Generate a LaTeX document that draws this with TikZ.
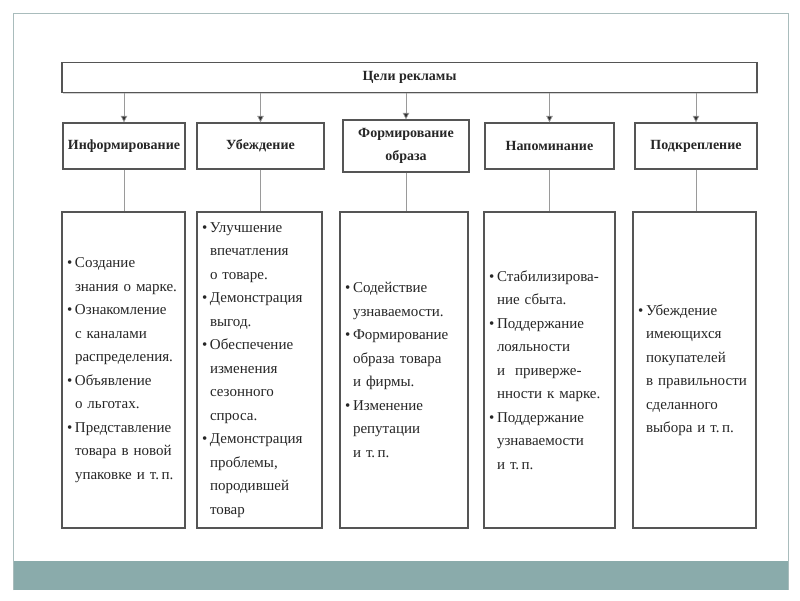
\documentclass[tikz,border=0pt]{standalone}
\usepackage{fontspec}
\setmainfont{Liberation Serif}
\usetikzlibrary{arrows.meta,shadows}
\definecolor{teal}{HTML}{8AABAB}
\definecolor{frame}{HTML}{A9BCBC}
\definecolor{boxline}{HTML}{555555}
\definecolor{conn}{HTML}{9A9A9A}
\newcommand\bul{\makebox[8pt][l]{•}}
\newcommand\cnt{\hspace*{8pt}}
\tikzset{
  hbox/.style={draw=boxline, line width=1.3pt, fill=white, align=center,
    font=\bfseries\fontsize{14}{16}\selectfont, text=black!85,
    drop shadow={shadow xshift=1pt, shadow yshift=-1.2pt, opacity=.35}},
  body/.style={draw=boxline, line width=1.3pt, fill=white, align=left,
    inner xsep=5pt, inner ysep=0pt,
    font=\fontsize{15}{23.5}\selectfont, text=black!85,
    drop shadow={shadow xshift=1pt, shadow yshift=-1.2pt, opacity=.35}},
  arr/.style={draw=conn, line width=0.7pt, -{Triangle[length=6.5pt,width=6.5pt,fill=black!80]}},
  lnk/.style={draw=conn, line width=0.7pt}
}
\begin{document}
\begin{tikzpicture}[x=1pt,y=-1pt]
\useasboundingbox (0,0) rectangle (800,600);
\fill[white] (0,0) rectangle (800,600);
% slide frame and band
\fill[teal] (13,561) rectangle (788,590);
\draw[frame, line width=0.8pt] (13,590) -- (13,13) -- (788,13) -- (788,590);

% title
\node[hbox, minimum width=695, minimum height=30] (title) at (409.5,77.5) {Цели рекламы};

% level 2
\node[hbox, minimum width=122, minimum height=46] (i1) at (124,146) {Информирование};
\node[hbox, minimum width=127, minimum height=46] (i2) at (260.5,146) {Убеждение};
\node[hbox, minimum width=126, minimum height=52, font=\bfseries\fontsize{14}{23}\selectfont] (i3) at (406,146) {Формирование\\образа};
\node[hbox, minimum width=129, minimum height=46] (i4) at (549.5,146) {Напоминание};
\node[hbox, minimum width=122, minimum height=46] (i5) at (696,146) {Подкрепление};

% level 3
\node[body, minimum width=123, minimum height=316, text width=113] (b1) at (123.5,370) {%
\bul Создание\\\cnt знания о марке.\\\bul Ознакомление\\\cnt с каналами\\\cnt распределения.\\\bul Объявление\\\cnt о льготах.\\\bul Представление\\\cnt товара в новой\\\cnt упаковке и т.\,п.};
\node[body, minimum width=125, minimum height=316, text width=115] (b2) at (259.5,370) {%
\bul Улучшение\\\cnt впечатления\\\cnt о товаре.\\\bul Демонстрация\\\cnt выгод.\\\bul Обеспечение\\\cnt изменения\\\cnt сезонного\\\cnt спроса.\\\bul Демонстрация\\\cnt проблемы,\\\cnt породившей\\\cnt товар};
\node[body, minimum width=128, minimum height=316, text width=118] (b3) at (404,370) {%
\bul Содействие\\\cnt узнаваемости.\\\bul Формирование\\\cnt образа товара\\\cnt и фирмы.\\\bul Изменение\\\cnt репутации\\\cnt и т.\,п.};
\node[body, minimum width=131, minimum height=316, text width=121] (b4) at (549.5,370) {%
\bul Стабилизирова-\\\cnt ние сбыта.\\\bul Поддержание\\\cnt лояльности\\\cnt и\ \ привер­же-\\\cnt нности к марке.\\\bul Поддержание\\\cnt узнаваемости\\\cnt и т.\,п.};
\node[body, minimum width=123, minimum height=316, text width=113] (b5) at (694.5,370) {%
\bul Убеждение\\\cnt имеющихся\\\cnt покупателей\\\cnt в правильности\\\cnt сделанного\\\cnt выбора и т.\,п.};

% connectors
\foreach \n in {1,...,5}{
  \draw[arr] (title.south -| i\n.north) -- (i\n.north);
  \draw[lnk] (i\n.south) -- (b\n.north -| i\n.south);
}
\end{tikzpicture}
\end{document}
